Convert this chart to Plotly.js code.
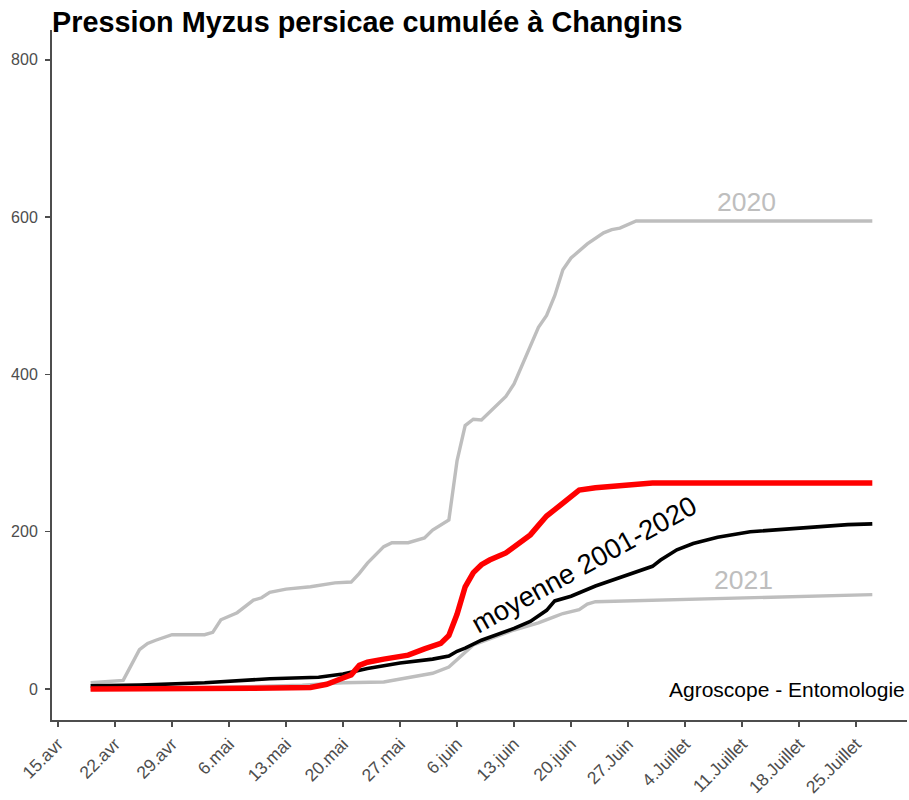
<!DOCTYPE html>
<html><head><meta charset="utf-8">
<script src="https://cdn.plot.ly/plotly-3.0.1.min.js"></script>
<style>body{margin:0;background:#fff}#chart{width:909px;height:800px}</style>
</head><body><div id="chart"></div>
<script>
// x = days since 15 April
const tickDays = [0,7,14,21,28,35,42,49,56,63,70,77,84,91,98];
const tickLabels = ["15.avr","22.avr","29.avr","6.mai","13.mai","20.mai","27.mai","6.juin","13.juin","20.juin","27.Juin","4.Juillet","11.Juillet","18.Juillet","25.Juillet"];
const yTicks = [0,200,400,600,800];

const days2020 = [4,8,10,11,12,14,18,19,20,21,22,24,25,26,28,31,34,36,37,38,40,41,43,45,46,48,49,50,51,52,53,54,55,56,59,60,61,62,63,65,67,68,69,71,73,100];
const vals2020 = [8,11,50,58,62,69,69,72,88,92,97,113,116,123,127,130,135,136,147,160,181,186,186,192,202,215,290,335,343,342,352,362,372,388,460,475,500,533,548,566,580,584,586,595,595,595];

const days2021 = [4,20,30,35,40,42,44,46,48,49,50,51,56,59,61,62,64,65,66,74,87,99,100];
const vals2021 = [0,2,5,8,9,13,17,20,28,37,46,56,75,84,92,96,101,108,111,113,116,120,120];

const daysAvg = [4,10,18,26,32,35,38,42,46,48,49,50,52,54,56,58,60,61,63,66,70,73,74,76,78,81,85,89,93,97,100];
const valsAvg = [4,5,8,13,15,19,26,33,38,42,48,52,62,69,77,86,100,112,118,131,145,156,164,177,185,193,200,203,206,209,210];

const daysCur = [4,18,24,31,33,35,36,37,38,40,43,45,47,48,49,50,51,52,53,55,57,58,59,60,61,62,63,64,66,69,71,73,100];
const valsCur = [0,0,1,2,6,14,18,30,34,38,43,51,58,68,95,130,148,158,164,173,188,196,208,220,228,236,246,253,256,258,261,262,262];

const F = "Liberation Sans, Arial, sans-serif";
const grey = "#bebebe";
const axisCol = "#4d4d4d";

const traces = [
  {x: days2020, y: vals2020, mode: "lines", line: {color: grey, width: 3.4}, hoverinfo: "skip"},
  {x: days2021, y: vals2021, mode: "lines", line: {color: grey, width: 3.4}, hoverinfo: "skip"},
  {x: daysAvg, y: valsAvg, mode: "lines", line: {color: "#000000", width: 3.6}, hoverinfo: "skip"},
  {x: daysCur, y: valsCur, mode: "lines", line: {color: "#ff0000", width: 5.5}, hoverinfo: "skip"}
];

const layout = {
  width: 909, height: 800,
  margin: {l: 52, r: 2, t: 30, b: 80},
  paper_bgcolor: "#ffffff", plot_bgcolor: "#ffffff",
  showlegend: false,
  font: {family: F, color: axisCol},
  title: {text: "<b>Pression Myzus persicae cumulée à Changins</b>", font: {family: F, size: 28.8, color: "#000000"},
          x: 52/909, xanchor: "left", xref: "container", y: 1 - 22/800, yanchor: "middle", yref: "container"},
  xaxis: {range: [-0.74, 104.26], tickmode: "array", tickvals: tickDays, ticktext: tickLabels, tickangle: -45,
          showline: true, linecolor: axisCol, linewidth: 2, ticks: "outside", ticklen: 5, tickwidth: 1.5, tickcolor: axisCol,
          showgrid: false, zeroline: false, tickfont: {family: F, size: 17.5, color: axisCol}},
  yaxis: {range: [-39.4, 837.9], tickmode: "array", tickvals: yTicks, ticktext: yTicks.map(String),
          showline: true, linecolor: axisCol, linewidth: 2, ticks: "outside", ticklen: 5, tickwidth: 1.5, tickcolor: axisCol,
          showgrid: false, zeroline: false, tickfont: {family: F, size: 16, color: axisCol}, ticklabelstandoff: 4},
  annotations: [
    {x: 84.5, y: 618.6, text: "2020", showarrow: false, font: {family: F, size: 26.5, color: grey}, xanchor: "center", yanchor: "middle"},
    {x: 84.2, y: 138.6, text: "2021", showarrow: false, font: {family: F, size: 26.5, color: grey}, xanchor: "center", yanchor: "middle"},
    {x: 64.6, y: 158, text: "moyenne 2001-2020", showarrow: false, textangle: -29, font: {family: F, size: 27.5, color: "#000000"}, xanchor: "center", yanchor: "middle"},
    {x: 1.0, xref: "paper", y: 0, text: "Agroscope - Entomologie", showarrow: false, font: {family: F, size: 21, color: "#000000"}, xanchor: "right", yanchor: "middle"}
  ]
};
Plotly.newPlot("chart", traces, layout, {staticPlot: true, displayModeBar: false});
</script></body></html>
